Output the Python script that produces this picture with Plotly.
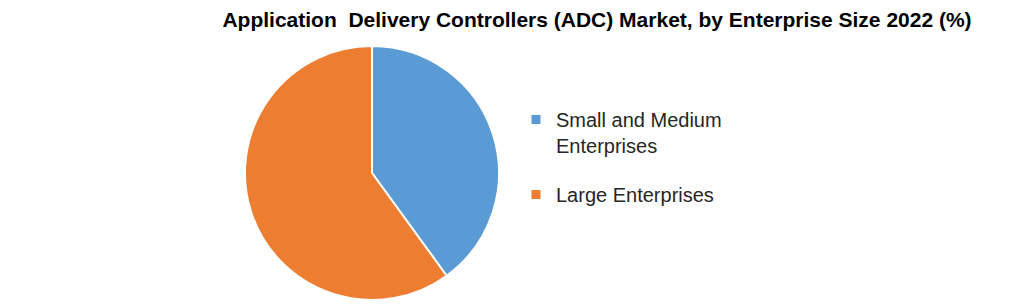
import plotly.graph_objects as go

labels = ["Small and Medium<br>Enterprises", "Large Enterprises"]
values = [40, 60]
colors = ["#5B9BD5", "#ED7D31"]

W, H = 1021, 304
cx, cy, r = 372, 173, 127

fig = go.Figure()
fig.add_trace(go.Pie(
    labels=labels, values=values, sort=False, direction="clockwise", rotation=0,
    marker=dict(colors=colors, line=dict(color="white", width=2)),
    textinfo="none", hoverinfo="label+percent", showlegend=False,
    domain=dict(x=[(cx - r) / W, (cx + r) / W], y=[(H - cy - r) / H, (H - cy + r) / H]),
))
# legend entries (one group per slice so the gap between them can be set)
for i, (lab, col) in enumerate(zip(labels, colors)):
    fig.add_trace(go.Scatter(
        x=[None], y=[None], mode="markers", name=lab, legendgroup=f"g{i}",
        marker=dict(symbol="square", color=col, size=9), hoverinfo="skip",
    ))

fig.update_layout(
    width=W, height=H, margin=dict(l=0, r=0, t=0, b=0),
    paper_bgcolor="white", plot_bgcolor="white",
    xaxis=dict(visible=False), yaxis=dict(visible=False),
    title=dict(text="<b>Application  Delivery Controllers (ADC) Market, by Enterprise Size 2022 (%)</b>",
               x=597 / W, xanchor="center", y=1 - 20 / H, yanchor="middle",
               font=dict(family="Liberation Sans Narrow, Liberation Sans, sans-serif", size=21, color="black")),
    legend=dict(x=516 / W, xanchor="left", y=1 - 100 / H, yanchor="top",
                font=dict(family="Liberation Sans, sans-serif", size=20, color="#262626"),
                valign="top", tracegroupgap=20),
)
fig.write_html("out.html")
